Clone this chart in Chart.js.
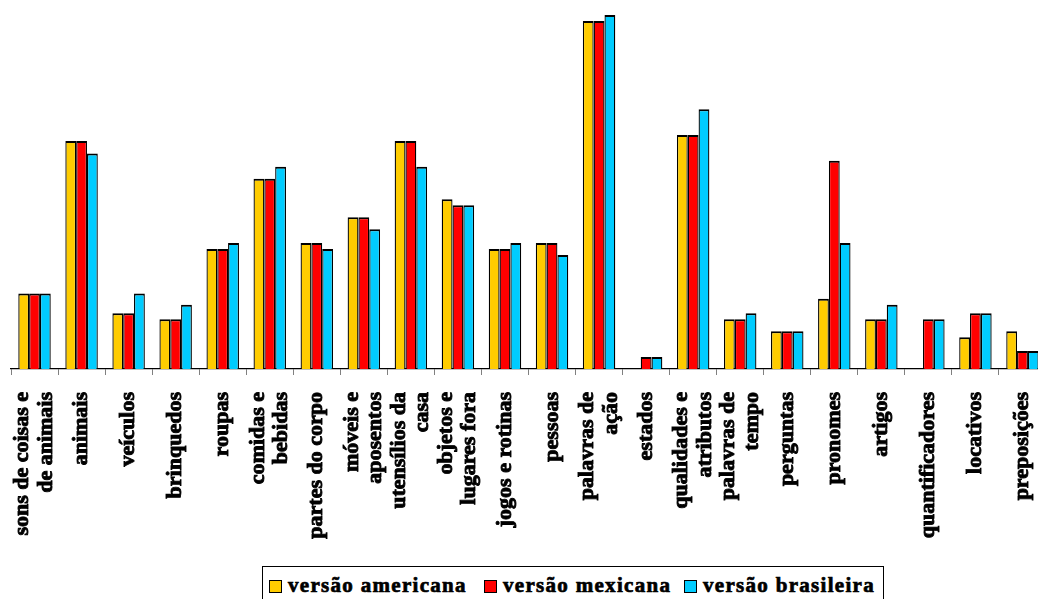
<!DOCTYPE html>
<html>
<head>
<meta charset="utf-8">
<script src="https://cdn.jsdelivr.net/npm/chart.js@4"></script>
<style>
  html, body { margin: 0; padding: 0; background: #fff; overflow: hidden; width: 1038px; height: 599px; }
  #wrap { position: absolute; left: 0; top: 0; width: 1046px; height: 560px; }
  #legend {
    position: absolute; left: 262px; top: 566px; width: 622px; height: 50px;
    border: 1px solid #000; box-sizing: border-box;
    font-family: "Liberation Serif", "Times New Roman", serif; font-weight: bold;
    font-size: 21px; letter-spacing: 1.3px; color: #000;
    -webkit-text-stroke: 0.7px #000;
  }
  #legend .item { position: absolute; top: 6px; white-space: nowrap; line-height: 24px; }
  #legend .sw { display: inline-block; width: 11px; height: 11px; border: 1.5px solid #000; vertical-align: -1px; margin-right: 6px; }
</style>
</head>
<body>
<div id="wrap"><canvas id="chart" width="1046" height="560"></canvas></div>
<div id="legend"></div>
<script>
const categories = [
  ['sons de coisas e', 'de animais'], 'animais', 'veículos', 'brinquedos', 'roupas',
  ['comidas e', 'bebidas'], 'partes do corpo', ['móveis e', 'aposentos'], ['utensílios da', 'casa'],
  ['objetos e', 'lugares fora'], 'jogos e rotinas', 'pessoas', ['palavras de', 'ação'], 'estados',
  ['qualidades e', 'atributos'], ['palavras de', 'tempo'], 'perguntas', 'pronomes', 'artigos',
  'quantificadores', 'locativos', 'preposições'
];
const seriesNames = ['versão americana', 'versão mexicana', 'versão brasileira'];
const seriesColors = ['#FFCC00', '#FF0000', '#00CCFF'];

const americana = [12.6, 38, 9.3, 8.3, 20, 31.7, 21, 25.3, 38, 28.3, 20, 21, 58, 0, 39, 8.3, 6.3, 11.7, 8.3, 0, 5.3, 6.3];
const mexicana = [12.6, 38, 9.3, 8.3, 20, 31.7, 21, 25.3, 38, 27.3, 20, 21, 58, 2, 39, 8.3, 6.3, 34.7, 8.3, 8.3, 9.3, 3];
const brasileira = [12.6, 35.9, 12.6, 10.7, 21, 33.7, 20, 23.3, 33.7, 27.3, 21, 19, 59, 2, 43.3, 9.3, 6.3, 21, 10.7, 8.3, 9.3, 3];

const yMax = 61.5;
const labelFont = { family: '"Liberation Serif", "Times New Roman", serif', weight: 'bold', size: 22, lineHeight: 1.08 };

// rotated multi-line labels: Chart.js starts the first line on the tick, so centre the block instead
const centerLabels = {
  id: 'centerLabels',
  beforeDraw(chart) {
    const scale = chart.scales.x;
    const items = scale.getLabelItems(chart.chartArea);
    items.forEach(item => {
      if (item._centered) return;
      item._centered = true;
      if (Array.isArray(item.label) && item.label.length > 1) {
        item.options.translation[0] -= (item.label.length - 1) * item.font.lineHeight / 2;
      }
    });
  }
};

const values = [americana, mexicana, brasileira];

new Chart(document.getElementById('chart'), {
  type: 'bar',
  data: {
    labels: categories,
    datasets: seriesNames.map((name, i) => ({
      label: name,
      data: values[i],
      backgroundColor: seriesColors[i],
      borderColor: '#000',
      borderWidth: { top: 2, left: 1.3, right: 1.3, bottom: 0 },
      borderSkipped: false,
      categoryPercentage: 0.69,
      barPercentage: 1
    }))
  },
  options: {
    responsive: false,
    animation: false,
    layout: { padding: { left: 11, right: 0, top: 0, bottom: 0 } },
    plugins: { legend: { display: false }, tooltip: { enabled: false } },
    scales: {
      y: { display: false, min: 0, max: yMax },
      x: {
        offset: true,
        border: { display: true, color: '#000', width: 1.3 },
        grid: { offset: true, drawOnChartArea: false, drawTicks: true, tickLength: 6, color: '#808080' },
        ticks: {
          autoSkip: false, minRotation: 90, maxRotation: 90, padding: 17,
          color: '#000', font: labelFont,
          textStrokeColor: '#000', textStrokeWidth: 0.9
        },
        afterFit(scale) {
          scale.height = 191;
          scale.paddingLeft = 0;
          scale.paddingRight = 0;
        }
      }
    }
  },
  plugins: [centerLabels]
});

// legend
const legendX = [6, 221, 421];
const legend = document.getElementById('legend');
seriesNames.forEach((name, i) => {
  const item = document.createElement('span');
  item.className = 'item';
  item.style.left = legendX[i] + 'px';
  item.innerHTML = `<span class="sw" style="background:${seriesColors[i]}"></span>${name}`;
  legend.appendChild(item);
});
</script>
</body>
</html>
